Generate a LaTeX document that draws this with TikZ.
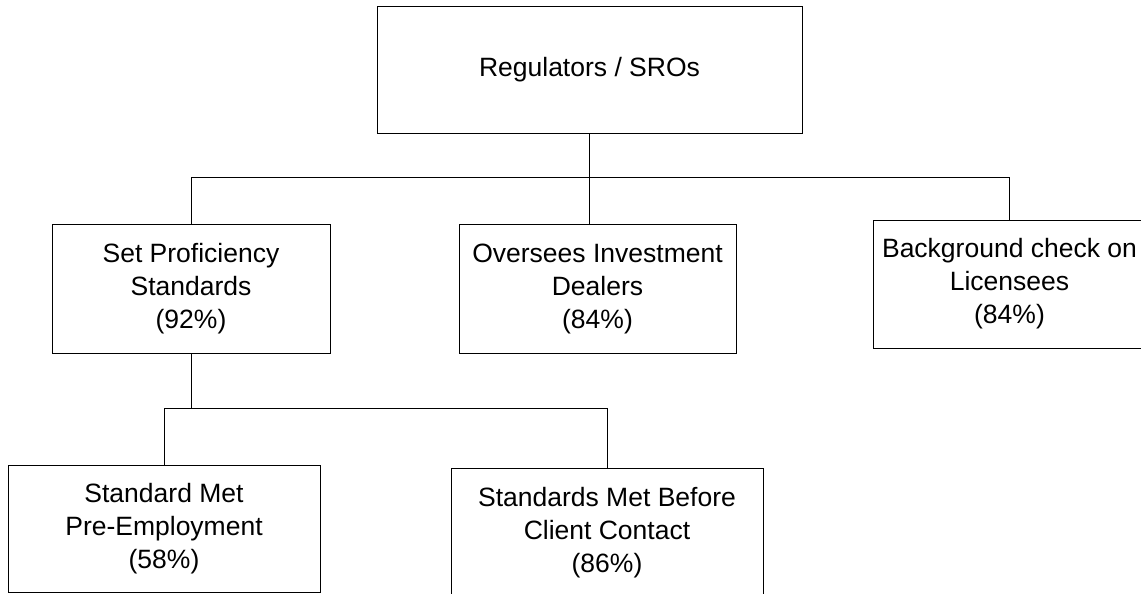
\documentclass[tikz,border=0pt]{standalone}
\usepackage{fontspec}
\setmainfont{Liberation Sans}
\begin{document}
\begin{tikzpicture}[x=1pt,y=-1pt,
  orgbox/.style={draw=black, line width=1pt, rectangle, inner sep=0pt, align=center,
    font=\fontsize{26.5}{33}\selectfont},
  conn/.style={draw=black, line width=1pt}]
\clip (0,0) rectangle (1141,594);
\fill[white] (0,0) rectangle (1141,594);
\node[orgbox, minimum width=425pt, minimum height=126pt] (reg) at (589.5,70) {Regulators / SROs};
\node[orgbox, minimum width=278pt, minimum height=129pt] (set) at (191,288.5) {Set Proficiency\\Standards\\(92\%)};
\node[orgbox, minimum width=277pt, minimum height=129pt] (ove) at (597.5,288.5) {Oversees Investment\\Dealers\\(84\%)};
\node[orgbox, minimum width=273pt, minimum height=128pt] (bgc) at (1009.5,284) {Background check on\\Licensees\\(84\%)};
\node[orgbox, minimum width=312pt, minimum height=127pt] (std) at (164,528.5) {Standard Met\\Pre-Employment\\(58\%)};
\node[orgbox, minimum width=312pt, minimum height=130pt] (smb) at (607,533) {Standards Met Before\\Client Contact\\(86\%)};
\coordinate (j) at (589.5,177);
\coordinate (k) at (191,408);
\draw[conn] (reg.south) -- (j);
\draw[conn] (set.north) -- (set.north |- j) -- (bgc.north |- j) -- (bgc.north);
\draw[conn] (j) -- (j |- ove.north);
\draw[conn] (set.south) -- (k);
\draw[conn] (std.north) -- (std.north |- k) -- (smb.north |- k) -- (smb.north);
\end{tikzpicture}
\end{document}
